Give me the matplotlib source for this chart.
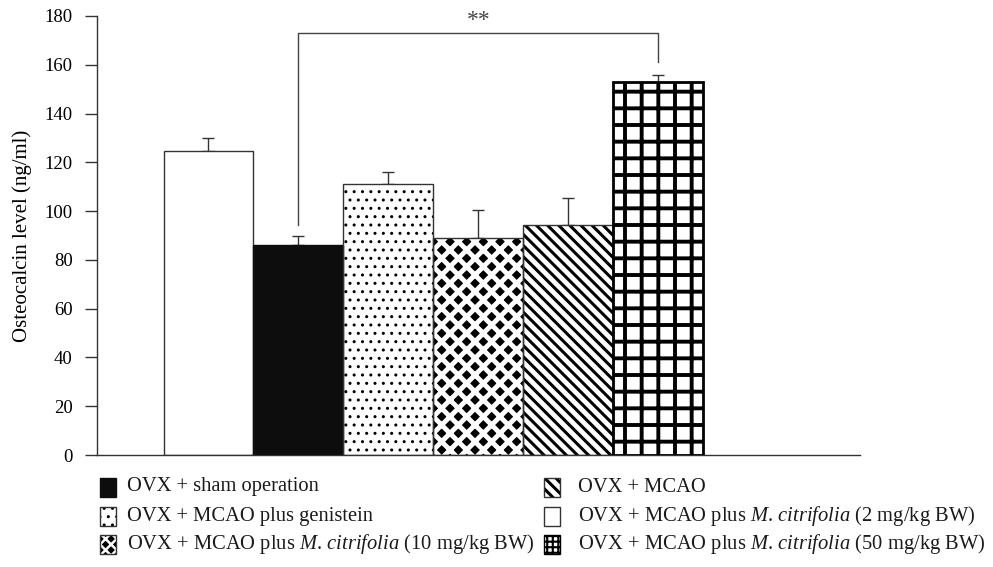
import matplotlib
matplotlib.use("Agg")
import matplotlib.pyplot as plt
from matplotlib.patches import Rectangle

# ---- data ----
groups = ["OVX + MCAO plus M. citrifolia (2 mg/kg BW)",
          "OVX + sham operation",
          "OVX + MCAO plus genistein",
          "OVX + MCAO plus M. citrifolia (10 mg/kg BW)",
          "OVX + MCAO",
          "OVX + MCAO plus M. citrifolia (50 mg/kg BW)"]
means = [124.5, 86.2, 111.1, 88.9, 94.5, 153.1]
errors = [5.4, 3.5, 5.1, 11.5, 10.7, 2.6]
yticks = [0, 20, 40, 60, 80, 100, 120, 140, 160, 180]
ylabel = "Osteocalcin level (ng/ml)"
sig_pair = [1, 5]
sig_y = 173.2
sig_leg_bottoms = [94.4, 161.1]
sig_label = "**"

legend_rows = [
    (r"OVX + sham operation", 1),
    (r"OVX + MCAO plus genistein", 2),
    (r"OVX + MCAO plus $\mathit{M.\,citrifolia}$ (10 mg/kg BW)", 3),
    (r"OVX + MCAO", 4),
    (r"OVX + MCAO plus $\mathit{M.\,citrifolia}$ (2 mg/kg BW)", 0),
    (r"OVX + MCAO plus $\mathit{M.\,citrifolia}$ (50 mg/kg BW)", 5),
]

# ---- styles ----
plt.rcParams["font.family"] = ["Liberation Serif", "DejaVu Serif"]
plt.rcParams["mathtext.fontset"] = "custom"
plt.rcParams["mathtext.rm"] = "Liberation Serif"
plt.rcParams["mathtext.it"] = "Liberation Serif:italic"

edge = "#333333"
styles = [
    dict(facecolor="white", edgecolor=edge, hatch=None, lw=1.0, hlw=1.0, hc=None,
         lhatch=None, lhlw=1.0),
    dict(facecolor="#0d0d0d", edgecolor="#0d0d0d", hatch=None, lw=1.0, hlw=1.0, hc=None,
         lhatch=None, lhlw=1.0),
    dict(facecolor="white", edgecolor=edge, hatch="..", lw=1.0, hlw=1.0, hc="black",
         lhatch="..", lhlw=1.0),
    dict(facecolor="black", edgecolor=edge, hatch="xx", lw=1.0, hlw=3.5, hc="white",
         lhatch="xxx", lhlw=1.8),
    dict(facecolor="white", edgecolor=edge, hatch="\\\\\\", lw=1.0, hlw=2.2, hc="black",
         lhatch="\\\\\\", lhlw=2.2),
    dict(facecolor="white", edgecolor="black", hatch="+", lw=2.0, hlw=2.8, hc="black",
         lhatch="+++", lhlw=1.5),
]

W, H = 993, 567
fig = plt.figure(figsize=(W / 100, H / 100), dpi=100)
ax = fig.add_axes([97 / W, 1 - 455 / H, (860 - 97) / W, (455 - 16) / H])

x = list(range(len(means)))


def make_hatched(factory, st, hatch, hlw):
    with plt.rc_context({"hatch.linewidth": hlw,
                         "hatch.color": st["hc"] or "black"}):
        arts = factory()
        for p in arts:
            if hatch and hasattr(p, "set_hatch_linewidth"):
                p.set_hatch_linewidth(hlw)
    return arts


for i in x:
    st = styles[i]
    make_hatched(lambda: ax.bar(x[i], means[i], width=1.0, facecolor=st["facecolor"],
                                edgecolor=(st["hc"] if st["hatch"] else st["edgecolor"]),
                                linewidth=0, hatch=st["hatch"], zorder=2),
                 st, st["hatch"], st["hlw"])
    ax.bar(x[i], means[i], width=1.0, facecolor="none",
           edgecolor=st["edgecolor"], linewidth=st["lw"], zorder=3)

ax.errorbar(x, means, yerr=[[0] * len(errors), errors], fmt="none",
            ecolor=edge, elinewidth=1.0, capsize=4, capthick=1.0, zorder=1)

# significance bracket
xa, xb = sig_pair
ax.plot([xa, xa, xb, xb], [sig_leg_bottoms[0], sig_y, sig_y, sig_leg_bottoms[1]],
        color="#444444", lw=1.0, zorder=1, clip_on=False)
ax.text((xa + xb) / 2, sig_y + 0.8, sig_label, ha="center", va="bottom",
        fontsize=17, color="#444444")

ax.set_xlim(-1.239, 7.24)
ax.set_ylim(0, 180)
ax.set_yticks(yticks)
ax.set_xticks([])
for s in ["top", "right"]:
    ax.spines[s].set_visible(False)
for s in ["left", "bottom"]:
    ax.spines[s].set_color("#333333")
    ax.spines[s].set_linewidth(1.0)
ax.tick_params(axis="y", direction="out", length=8.5, width=1.0,
               color="#333333", labelsize=13.5, pad=9)
ax.set_ylabel(ylabel, fontsize=15)
ax.yaxis.set_label_coords(-(97 - 22) / (860 - 97), 0.5)
ax.yaxis.label.set_va("center")

# ---- legend (manual) ----
col_patch_x = [100, 544]
col_text_x = [127, 578]
row_y = [487, 516, 544]
pw, ph = 16, 19
for k, (label, idx) in enumerate(legend_rows):
    c, r = divmod(k, 3)
    st = styles[idx]
    px0 = col_patch_x[c] / W
    py0 = 1 - (row_y[r] + ph / 2) / H
    arts = make_hatched(lambda: [Rectangle((px0, py0), pw / W, ph / H, transform=fig.transFigure,
                                           facecolor=st["facecolor"],
                                           edgecolor=(st["hc"] if st["lhatch"] else st["edgecolor"]),
                                           linewidth=0, hatch=st["lhatch"])],
                        st, st["lhatch"], st["lhlw"])
    fig.add_artist(arts[0])
    fig.add_artist(Rectangle((px0, py0), pw / W, ph / H, transform=fig.transFigure,
                             facecolor="none", edgecolor=st["edgecolor"], linewidth=1.0))
    fig.text(col_text_x[c] / W, 1 - row_y[r] / H, label, ha="left", va="center",
             fontsize=14.8, color="#1a1a1a")

fig.savefig("out.png", dpi=100)
